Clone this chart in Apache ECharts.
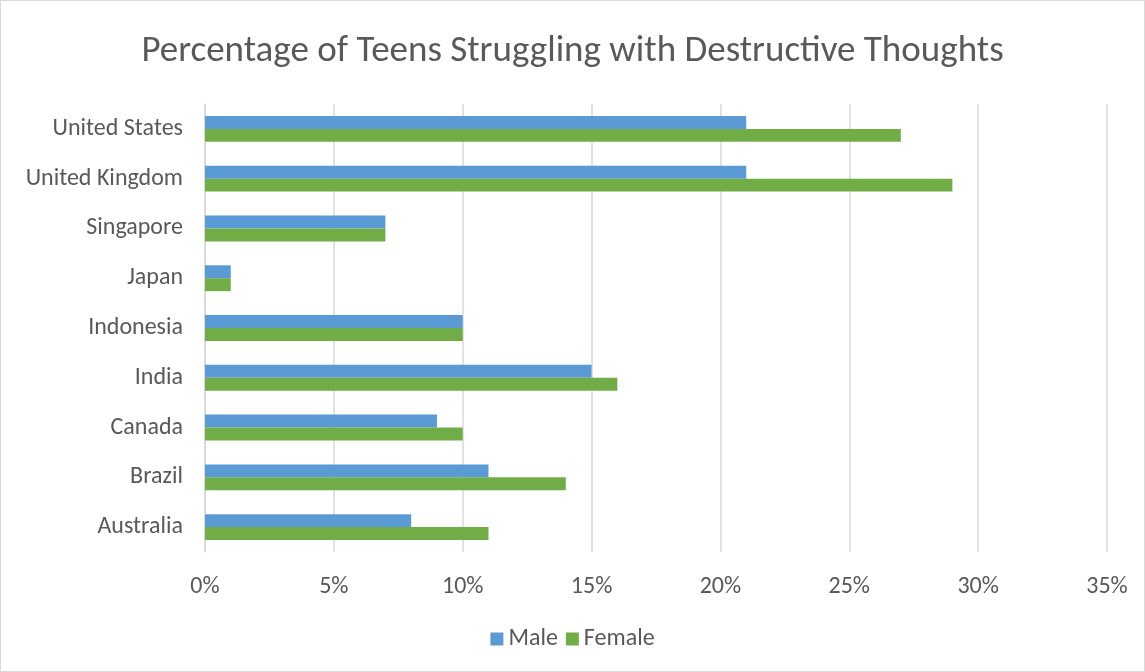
<!DOCTYPE html>
<html><head><meta charset="utf-8">
<script src="https://cdn.jsdelivr.net/npm/echarts@6/dist/echarts.min.js"></script>
<style>html,body{margin:0;padding:0;background:#fff}#c{width:1145px;height:672px;box-sizing:border-box;border:1px solid #d9d9d9}</style>
</head><body><div id="c"></div>
<script>
const categories = ['Australia','Brazil','Canada','India','Indonesia','Japan','Singapore','United Kingdom','United States'];
const male = [8,11,9,15,10,1,7,21,21];
const female = [11,14,10,16,10,1,7,29,27];
const xTicks = [0,5,10,15,20,25,30,35];
const chart = echarts.init(document.getElementById('c'));
const font = 'Calibri, Carlito, "Open Sans", sans-serif';
chart.setOption({
  animation:false,
  title:{text:'Percentage of Teens Struggling with Destructive Thoughts',left:'center',top:27,textStyle:{fontFamily:font,fontSize:37,fontWeight:'normal',color:'#595959'}},
  legend:{bottom:15,itemWidth:13,itemHeight:13,itemGap:8,icon:'rect',textStyle:{fontFamily:font,fontSize:24,color:'#595959'},data:['Male','Female']},
  grid:{left:204,right:37,top:103,bottom:119},
  xAxis:{type:'value',min:0,max:35,interval:5,axisLabel:{formatter:v=>v+'%',fontFamily:font,fontSize:24,color:'#595959',margin:23},splitLine:{lineStyle:{color:'#d9d9d9',width:1.5}},axisLine:{show:false},axisTick:{show:false}},
  yAxis:{type:'category',data:categories,axisLabel:{fontFamily:font,fontSize:24,color:'#595959',margin:22,padding:[3,0,0,0]},axisTick:{show:false},axisLine:{show:true,lineStyle:{color:'#d9d9d9',width:1.5}}},
  series:[
    {name:'Male',type:'bar',data:male,itemStyle:{color:'#5B9BD5'},barGap:'0%',barCategoryGap:'48%'},
    {name:'Female',type:'bar',data:female,itemStyle:{color:'#70AD47'},barGap:'0%',barCategoryGap:'48%'}
  ]
});
</script></body></html>
